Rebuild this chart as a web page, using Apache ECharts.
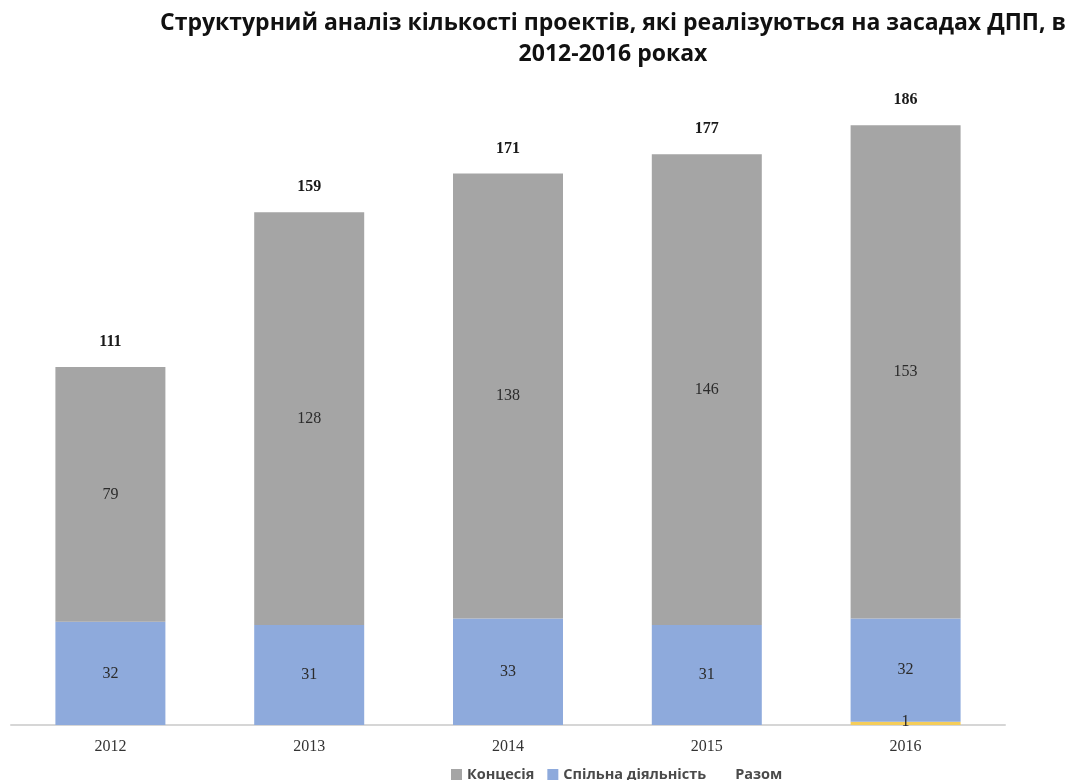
<!DOCTYPE html>
<html>
<head>
<meta charset="utf-8">
<script src="https://cdn.jsdelivr.net/npm/echarts@6/dist/echarts.min.js"></script>
<style>
  html, body { margin: 0; padding: 0; background: #fff; }
  #chart { width: 1078px; height: 780px; }
</style>
</head>
<body>
<div id="chart"></div>
<script>
// Years on the category axis
const years = ['2012', '2013', '2014', '2015', '2016'];
// Number of projects by form of partnership
const otherValues = [0, 0, 0, 0, 1];
const jointValues = [32, 31, 33, 31, 32];
const concessionValues = [79, 128, 138, 146, 153];
const totalValues = [111, 159, 171, 177, 186];

const chart = echarts.init(document.getElementById('chart'));

const innerLabel = {
  show: true,
  position: 'inside',
  fontFamily: 'Liberation Serif',
  fontSize: 16,
  color: '#2b2b2b'
};

chart.setOption({
  animation: false,
  title: {
    text: 'Структурний аналіз кількості проектів, які реалізуються на засадах ДПП, в\n2012-2016 роках',
    left: 608,
    top: 3,
    textAlign: 'center',
    textStyle: {
      fontFamily: 'Open Sans',
      fontWeight: 'bold',
      fontSize: 23,
      lineHeight: 31,
      color: '#111'
    }
  },
  legend: {
    top: 762,
    left: 446,
    itemWidth: 11,
    itemHeight: 11,
    itemGap: 13,
    textStyle: { fontFamily: 'Open Sans', fontWeight: 'bold', fontSize: 14.5, color: '#4a4a4a' },
    data: [
      { name: 'Концесія', icon: 'rect' },
      { name: 'Спільна діяльність', icon: 'rect' },
      { name: 'Разом', icon: 'rect', itemStyle: { color: 'rgba(0,0,0,0)' } }
    ]
  },
  grid: { left: 11, right: 73, top: 80, bottom: 55 },
  xAxis: {
    type: 'category',
    data: years,
    axisLine: { lineStyle: { color: '#d6d6d6', width: 2 } },
    axisTick: { show: false },
    axisLabel: {
      fontFamily: 'Liberation Serif',
      fontSize: 16,
      color: '#333',
      margin: 14
    }
  },
  yAxis: {
    type: 'value',
    min: 0,
    max: 200,
    show: false,
    splitLine: { show: false }
  },
  series: [
    {
      name: 'Інше',
      type: 'bar',
      stack: 'ppp',
      barWidth: 110,
      data: otherValues,
      itemStyle: { color: '#f5cd5a' },
      label: {
        show: true,
        position: 'top',
        distance: -8,
        fontFamily: 'Liberation Serif',
        fontSize: 16,
        color: '#2b2b2b',
        formatter: p => (p.value > 0 ? p.value : '')
      }
    },
    {
      name: 'Спільна діяльність',
      type: 'bar',
      stack: 'ppp',
      barWidth: 110,
      data: jointValues,
      itemStyle: { color: '#8eaadc' },
      label: innerLabel
    },
    {
      name: 'Концесія',
      type: 'bar',
      stack: 'ppp',
      barWidth: 110,
      data: concessionValues,
      itemStyle: { color: '#a5a5a5' },
      label: innerLabel
    },
    {
      // Totals: an invisible bar over each stack that carries the label
      name: 'Разом',
      type: 'bar',
      barWidth: 110,
      barGap: '-100%',
      z: 1,
      data: totalValues,
      itemStyle: { color: 'rgba(0,0,0,0)' },
      label: {
        show: true,
        position: 'top',
        distance: 17,
        fontFamily: 'Liberation Serif',
        fontWeight: 'bold',
        fontSize: 16,
        color: '#1a1a1a'
      }
    }
  ]
});
</script>
</body>
</html>
